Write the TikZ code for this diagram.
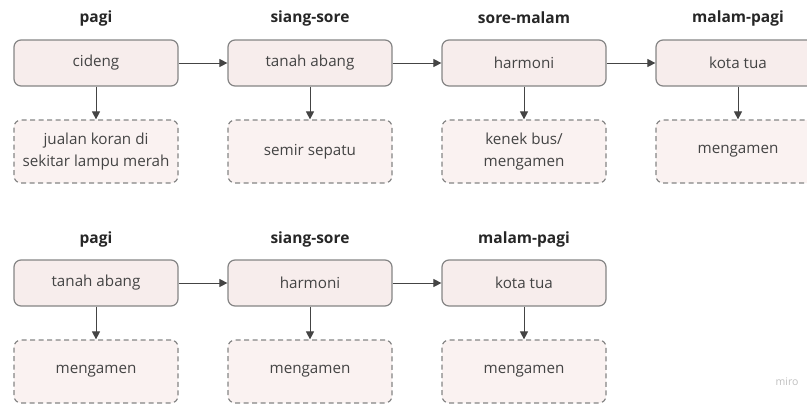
\documentclass[tikz,border=0pt]{standalone}
\usepackage{fontspec}
\setmainfont{Open Sans}
\usetikzlibrary{arrows.meta}
\definecolor{boxfill}{HTML}{F7EDEC}
\definecolor{jobfill}{HTML}{FAF2F1}
\definecolor{edge}{HTML}{858585}
\definecolor{ink}{HTML}{444444}
\tikzset{
  place/.style={draw=edge, fill=boxfill, rounded corners=7pt, minimum width=164pt,
    minimum height=46pt, text=ink, font=\fontsize{15.2}{21.5}\selectfont, line width=1.2pt},
  job/.style={place, fill=jobfill, dash pattern=on 5pt off 3.5pt, align=center, minimum height=63pt},
  slot/.style={font=\bfseries\fontsize{15.5}{18}\selectfont, text=black!85},
  go/.style={-{Triangle[length=8pt,width=8pt]}, draw=ink, line width=1pt}
}
\begin{document}
\begin{tikzpicture}[x=1pt,y=-1pt]
\useasboundingbox (0,0) rectangle (807,405);
% first row
\foreach \c/\t/\p/\j in {0/pagi/cideng/{jualan koran di\\sekitar lampu merah},
    1/siang-sore/tanah abang/semir sepatu,
    2/sore-malam/harmoni/{kenek bus/\\mengamen},
    3/malam-pagi/kota tua/mengamen} {
    \node[slot] (ta\c) at (96+214*\c,18) {\t};
    \node[place] (pa\c) at (96+214*\c,63) {\p};
    \node[job] (ja\c) at (96+214*\c,151.5) {\j};
    \draw[go] (pa\c) -- (ja\c);
}
\foreach \a/\b in {0/1,1/2,2/3}
    \draw[go] (pa\a) -- (pa\b);
% second row
\foreach \c/\t/\p in {0/pagi/tanah abang,1/siang-sore/harmoni,2/malam-pagi/kota tua} {
    \node[slot] (tb\c) at (96+214*\c,239) {\t};
    \node[place] (pb\c) at (96+214*\c,283) {\p};
    \node[job] (jb\c) at (96+214*\c,371.5) {mengamen};
    \draw[go] (pb\c) -- (jb\c);
}
\foreach \a/\b in {0/1,1/2}
    \draw[go] (pb\a) -- (pb\b);
\node[text=black!25, font=\fontsize{10.5}{12}\selectfont] (miro) at (787,382) {miro};
\end{tikzpicture}
\end{document}
